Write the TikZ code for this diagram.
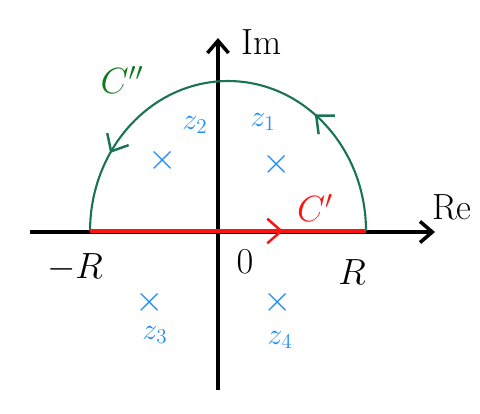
\documentclass[tikz,border=0pt]{standalone}
\usetikzlibrary{arrows.meta,decorations.markings}
\definecolor{arcgreen}{RGB}{25,115,85}
\definecolor{labgreen}{RGB}{15,120,25}
\definecolor{poleblue}{RGB}{30,140,250}
\definecolor{linered}{RGB}{250,20,20}
\tikzset{every picture/.style={line width=0.75pt}}
\tikzset{
  axis/.style={line width=2pt,-{Straight Barb[length=7pt,width=12pt]}},
  lab/.style={font=\huge},
  pole/.style={text=poleblue,font=\huge,inner sep=0pt},
  polename/.style={text=poleblue,font=\LARGE,inner sep=0pt},
  tipmark/.style={postaction={decorate,decoration={markings,
      mark=at position #1 with {\arrow[line width=1.4pt]{Straight Barb[length=8pt,width=14pt]}}}}}
}

\begin{document}
\begin{tikzpicture}[x=0.02cm,y=0.02cm]
  \useasboundingbox (-218,-181) rectangle (262,232);

  % --- les axes ---
  \coordinate (xl) at (-188,0);
  \coordinate (xr) at (217,0);
  \coordinate (yb) at (0,-158);
  \coordinate (yt) at (0,194);
  \draw[axis] (xl) -- (xr);
  \draw[axis] (yb) -- (yt);
  \node[lab] (im) at (44,190) {Im};
  \node[lab] (re) at (234,25) {Re};

  % --- le contour ---
  \coordinate (mR) at (-128,1);
  \coordinate (pR) at (148,1);
  \draw[arcgreen,line width=1.2pt,tipmark=0.29,tipmark=0.82]
    (pR) arc[start angle=0,end angle=180,x radius=2.76cm,y radius=3cm];
  \draw[linered,line width=2.2pt,tipmark=0.7] (mR) -- (pR);
  \node[lab,text=labgreen] (cc) at (-96,152) {$C''$};
  \node[lab,text=linered] (c) at (97,24) {$C'$};

  % --- graduations ---
  \node[lab] (lmR) at (-143,-36) {$-R$};
  \node[lab] (lO) at (27,-30) {$0$};
  \node[lab] (lpR) at (134,-40) {$R$};

  % --- les poles ---
  \node[pole] (p1) at (59,68) {$\times$};
  \node[pole] (p2) at (-55,72) {$\times$};
  \node[pole] (p3) at (-68,-70) {$\times$};
  \node[pole] (p4) at (60,-70) {$\times$};
  \node[polename] (z1) at (45,110) {$z_1$};
  \node[polename] (z2) at (-23,107) {$z_2$};
  \node[polename] (z3) at (-63,-103) {$z_3$};
  \node[polename] (z4) at (62,-108) {$z_4$};
\end{tikzpicture}
\end{document}
